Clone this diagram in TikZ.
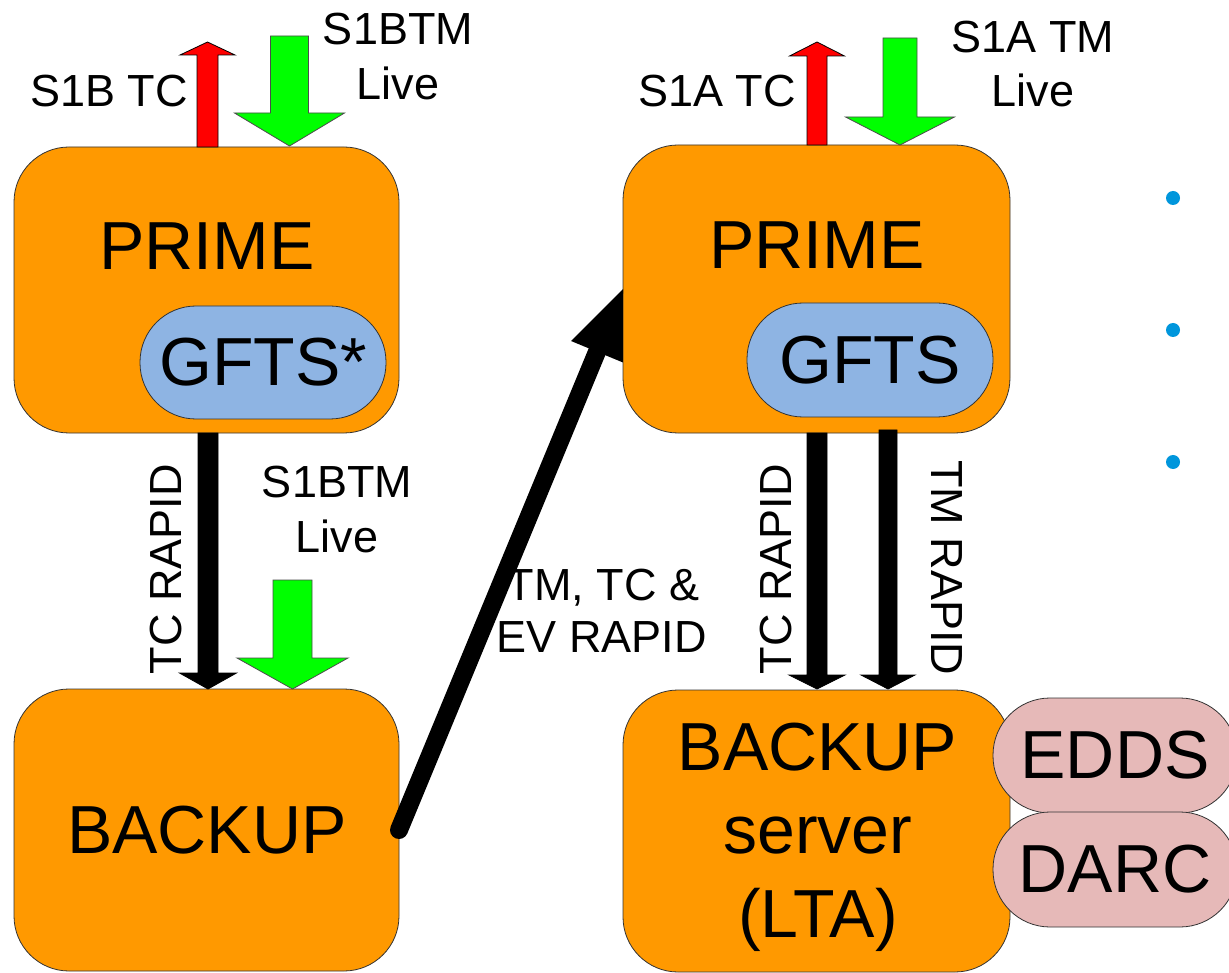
\documentclass[tikz,border=0pt]{standalone}
\usepackage{fontspec}
\setmainfont{Liberation Sans}
\usetikzlibrary{calc}
\definecolor{boxorange}{RGB}{255,153,0}
\definecolor{gftsblue}{RGB}{142,180,227}
\definecolor{pillpink}{RGB}{230,185,184}
\definecolor{bulletblue}{RGB}{0,150,220}
\definecolor{livegreen}{RGB}{0,255,0}
\definecolor{tcred}{RGB}{255,0,0}
\newcommand{\BigTxt}{\fontsize{68}{83}\selectfont}
\newcommand{\LblTxt}{\fontsize{45}{54}\selectfont}
% #1 fill, #2 outline, #3 x centre, #4 tail y, #5 tip y, #6 half shaft, #7 half head, #8 head base y
\newcommand{\blkarrow}[8]{\filldraw[fill=#1,draw=#2,line width=0.8pt,line join=miter]
  (#3-#6,#4) -- (#3+#6,#4) -- (#3+#6,#8) -- (#3+#7,#8) -- (#3,#5) -- (#3-#7,#8) -- (#3-#6,#8) -- cycle;}
\tikzset{
  server/.style={draw=black!80,line width=0.8pt,fill=boxorange,rounded corners=55pt,
    rectangle,inner sep=0pt,outer sep=0pt},
  pill/.style={draw=black!80,line width=0.8pt,rectangle,inner sep=0pt,outer sep=0pt,
    font=\BigTxt},
  bigtext/.style={inner sep=0pt,font=\BigTxt,anchor=base},
  lbl/.style={inner sep=0pt,font=\LblTxt,anchor=base},
  rlbl/.style={inner sep=0pt,font=\LblTxt},
  bullet/.style={circle,fill=bulletblue,inner sep=0pt,minimum size=14pt}
}
\begin{document}
\begin{tikzpicture}[x=1pt,y=-1pt]
\clip (0,0) rectangle (1229,973);
\fill[white] (0,0) rectangle (1229,973);

% server boxes
\node[server,minimum width=385pt,minimum height=286pt] (pl) at (206.5,290) {};
\node[server,minimum width=387pt,minimum height=288pt] (pr) at (816.5,289) {};
\node[server,minimum width=385pt,minimum height=282pt] (bl) at (206.5,830) {};
\node[server,minimum width=387pt,minimum height=282pt] (br) at (816.5,831) {};

% pills
\node[pill,fill=gftsblue,rounded corners=56pt,minimum width=246pt,minimum height=113pt] (gl) at (263,362.5) {GFTS*};
\node[pill,fill=gftsblue,rounded corners=56pt,minimum width=246pt,minimum height=114pt] (gr) at (870,360) {GFTS};
\node[pill,fill=pillpink,rounded corners=57pt,minimum width=244pt,minimum height=115pt] (edds) at (1115,755.5) {EDDS};
\node[pill,fill=pillpink,rounded corners=57pt,minimum width=244pt,minimum height=115pt] (darc) at (1115,869.5) {DARC};

% box texts
\node[bigtext] (plt) at (207,270) {PRIME};
\node[bigtext] (prt) at (817,269) {PRIME};
\node[bigtext] (blt) at (207,853) {BACKUP};
\node[bigtext] (brt1) at (817.5,770) {BACKUP};
\node[bigtext] (brt2) at (818,853) {server};
\node[bigtext] (brt3) at (818,937) {(LTA)};

% top block arrows
\blkarrow{tcred}{black}{207.5}{147}{42}{10.5}{27.5}{55}
\blkarrow{livegreen}{black!70}{289.5}{36}{146}{19}{55}{113}
\blkarrow{tcred}{black}{817}{145}{42}{10}{27.5}{56}
\blkarrow{livegreen}{black!70}{900}{38}{145}{17}{54.5}{117}

% middle block arrows
\blkarrow{black}{black}{208}{433}{689}{10}{28.5}{673}
\blkarrow{livegreen}{black!70}{292.5}{580}{689}{19.5}{55.5}{658}
\blkarrow{black}{black}{817}{433}{689}{10}{28}{675}
\blkarrow{black}{black}{888}{430}{689}{9}{27}{675}

% labels
\node[lbl] (s1btc) at (109,107) {S1B TC};
\node[lbl] (s1btm1) at (398,45) {S1BTM};
\node[lbl] (s1btm2) at (398,100) {Live};
\node[lbl] (s1atc) at (717,107) {S1A TC};
\node[lbl] (s1atm1) at (1033,53) {S1A TM};
\node[lbl] (s1atm2) at (1033,107) {Live};
\node[lbl] (s1bml1) at (337,497) {S1BTM};
\node[lbl] (s1bml2) at (337,552) {Live};
\node[rlbl,rotate=90] (tcl) at (166,569) {TC RAPID};
\node[rlbl,rotate=90] (tcr) at (776,569) {TC RAPID};
\node[rlbl,rotate=-90] (tmr) at (947,568) {TM RAPID};
\node[lbl] (ev1) at (603,600) {TM, TC \&};
\node[lbl] (ev2) at (602,652) {EV RAPID};

% diagonal connector BACKUP -> PRIME
\coordinate (hb) at ($(bl.east)!0.884!(pr.west)$);
\draw[line width=18pt,line cap=round] (bl.east) -- (hb);
\fill[black] (pr.west) -- ($(hb)!28pt!90:(pr.west)$) -- ($(hb)!28pt!-90:(pr.west)$) -- cycle;

% bullets
\node[bullet] (b1) at (1173,198) {};
\node[bullet] (b2) at (1173,330) {};
\node[bullet] (b3) at (1173,462) {};
\end{tikzpicture}
\end{document}
